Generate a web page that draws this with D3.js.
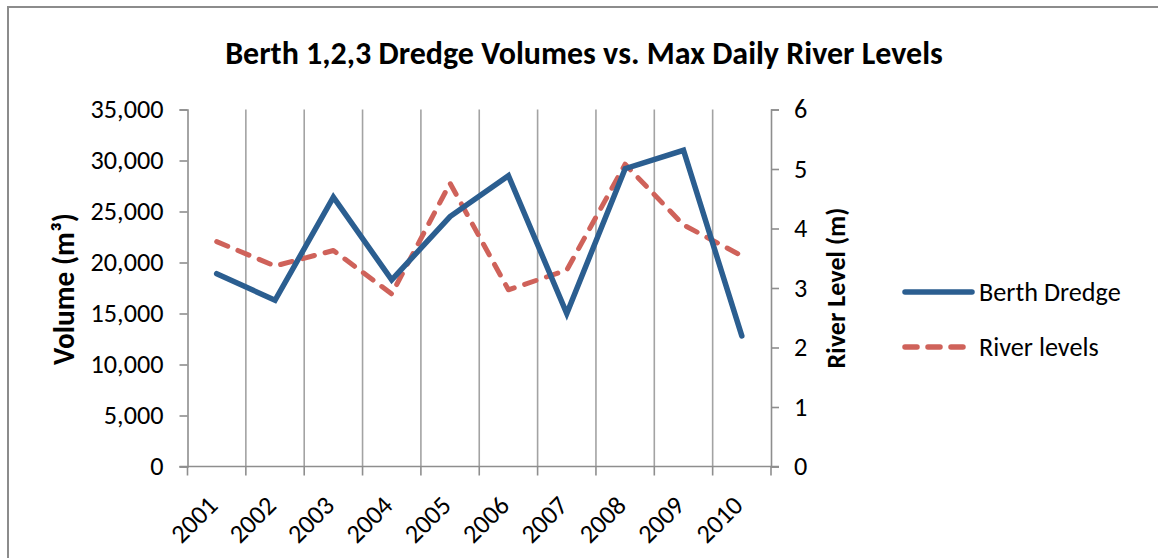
<!DOCTYPE html>
<html>
<head>
<meta charset="utf-8">
<script src="https://cdn.jsdelivr.net/npm/d3@7"></script>
<style>
  html, body { margin: 0; padding: 0; background: #fff; }
  svg { display: block; font-family: Carlito, Calibri, "Open Sans", sans-serif; }
</style>
</head>
<body>
<svg id="chart" width="1158" height="558"></svg>
<script>
// Annual dredge volumes and max daily river levels, 2001–2010
const years = ["2001", "2002", "2003", "2004", "2005", "2006", "2007", "2008", "2009", "2010"];
const dredgeVolumes = [18900, 16300, 26400, 18300, 24500, 28500, 15000, 29200, 31000, 12800];
const riverLevels = [3.78, 3.37, 3.63, 2.90, 4.76, 2.97, 3.30, 5.08, 4.06, 3.54];
const volumeTicks = [0, 5000, 10000, 15000, 20000, 25000, 30000, 35000];
const levelTicks = [0, 1, 2, 3, 4, 5, 6];
const seriesNames = ["Berth Dredge", "River levels"];

const svg = d3.select("#chart");
const blue = "#2B5E90";
const red = "#CF625A";
const gridColor = "#A3A3A3";
const axisColor = "#8E8E8E";

const plot = { left: 187.5, right: 771, top: 109.5, bottom: 466.5 };

const x = d3.scaleBand().domain(years).range([plot.left, plot.right]).padding(0);
const yVol = d3.scaleLinear().domain([0, 35000]).range([plot.bottom, plot.top]);
const yLev = d3.scaleLinear().domain([0, 6]).range([plot.bottom, plot.top]);
const cx = d => x(d) + x.bandwidth() / 2;

// Scale a text element's font so its rendered width equals `width`
function fitSize(node, width) {
  const size = parseFloat(d3.select(node).attr("font-size"));
  const w = node.getComputedTextLength();
  return size * width / w;
}

// Outer chart frame
svg.append("rect")
  .attr("x", 8).attr("y", 7)
  .attr("width", 1170).attr("height", 570)
  .attr("fill", "none").attr("stroke", "#8C8C8C").attr("stroke-width", 2);

// Title
const title = svg.append("text")
  .attr("x", 584).attr("y", 64)
  .attr("text-anchor", "middle")
  .attr("font-size", 24).attr("font-weight", "bold").attr("fill", "#000")
  .text("Berth 1,2,3 Dredge Volumes vs. Max Daily River Levels");
title.attr("font-size", fitSize(title.node(), 718));

// Vertical gridlines at category boundaries
const boundaries = years.map(d => x(d)).concat([plot.right]);
svg.append("g").selectAll("line").data(boundaries.slice(1, -1)).join("line")
  .attr("x1", d => d).attr("x2", d => d)
  .attr("y1", plot.top).attr("y2", plot.bottom)
  .attr("stroke", gridColor).attr("stroke-width", 1.6);

// Left axis (volume)
const leftAxis = d3.axisLeft(yVol).tickValues(volumeTicks)
  .tickFormat(d3.format(",")).tickSize(8).tickPadding(16);
const gL = svg.append("g").attr("transform", `translate(${plot.left},0)`).call(leftAxis)
  .attr("font-family", null).attr("font-size", null);
gL.select(".domain").attr("stroke", axisColor).attr("stroke-width", 1.6);
gL.selectAll(".tick line").attr("stroke", axisColor).attr("stroke-width", 1.6);
gL.selectAll(".tick text").attr("font-size", 20).attr("fill", "#000");

// Tick label size taken from the widest label
const tickSize = fitSize(gL.selectAll(".tick text").filter(d => d === 35000).node(), 73);
gL.selectAll(".tick text").attr("font-size", tickSize);

// Right axis (river level)
const rightAxis = d3.axisRight(yLev).tickValues(levelTicks)
  .tickFormat(d3.format("d")).tickSize(8).tickPadding(15);
const gR = svg.append("g").attr("transform", `translate(${plot.right},0)`).call(rightAxis)
  .attr("font-family", null).attr("font-size", null);
gR.select(".domain").attr("stroke", axisColor).attr("stroke-width", 1.6);
gR.selectAll(".tick line").attr("stroke", axisColor).attr("stroke-width", 1.6);
gR.selectAll(".tick text").attr("font-size", tickSize).attr("fill", "#000");

// Bottom axis with ticks at category boundaries
const gB = svg.append("g");
gB.append("line")
  .attr("x1", plot.left - 8).attr("x2", plot.right + 8)
  .attr("y1", plot.bottom).attr("y2", plot.bottom)
  .attr("stroke", axisColor).attr("stroke-width", 1.6);
gB.selectAll("line.tk").data(boundaries).join("line").attr("class", "tk")
  .attr("x1", d => d).attr("x2", d => d)
  .attr("y1", plot.bottom).attr("y2", plot.bottom + 9)
  .attr("stroke", axisColor).attr("stroke-width", 1.6);
gB.selectAll("text").data(years).join("text")
  .attr("transform", d => `translate(${cx(d) - 4},${plot.bottom + 34}) rotate(-45)`)
  .attr("text-anchor", "end")
  .attr("dy", "0.35em")
  .attr("font-size", tickSize).attr("fill", "#000")
  .text(d => d);

// Axis titles
const volTitle = svg.append("text")
  .attr("transform", `translate(74,289) rotate(-90)`)
  .attr("text-anchor", "middle")
  .attr("font-size", 20).attr("font-weight", "bold").attr("fill", "#000")
  .text("Volume (m³)");
volTitle.attr("font-size", fitSize(volTitle.node(), 152));
const levTitle = svg.append("text")
  .attr("transform", `translate(845,288) rotate(-90)`)
  .attr("text-anchor", "middle")
  .attr("font-size", 20).attr("font-weight", "bold").attr("fill", "#000")
  .text("River Level (m)");
levTitle.attr("font-size", fitSize(levTitle.node(), 161));

// Series lines
const volLine = d3.line().x((d, i) => cx(years[i])).y(d => yVol(d));
const levLine = d3.line().x((d, i) => cx(years[i])).y(d => yLev(d));

svg.append("path").datum(riverLevels)
  .attr("d", levLine)
  .attr("fill", "none").attr("stroke", red).attr("stroke-width", 5)
  .attr("stroke-dasharray", "12,11").attr("stroke-linecap", "round").attr("stroke-linejoin", "round");

svg.append("path").datum(dredgeVolumes)
  .attr("d", volLine)
  .attr("fill", "none").attr("stroke", blue).attr("stroke-width", 5.5)
  .attr("stroke-linecap", "round").attr("stroke-linejoin", "miter");

// Legend
const legend = svg.append("g");
const legendRows = [
  { name: seriesNames[0], color: blue, dash: null, y: 292 },
  { name: seriesNames[1], color: red, dash: "12,11", y: 347 }
];
legendRows.forEach(r => {
  legend.append("line")
    .attr("x1", 905).attr("x2", r.dash ? 966 : 972)
    .attr("y1", r.y).attr("y2", r.y)
    .attr("stroke", r.color).attr("stroke-width", 5.5)
    .attr("stroke-linecap", "round")
    .attr("stroke-dasharray", r.dash);
  legend.append("text")
    .attr("x", 979).attr("y", r.y)
    .attr("dy", "0.35em")
    .attr("font-size", tickSize).attr("fill", "#000")
    .text(r.name);
});
</script>
</body>
</html>
